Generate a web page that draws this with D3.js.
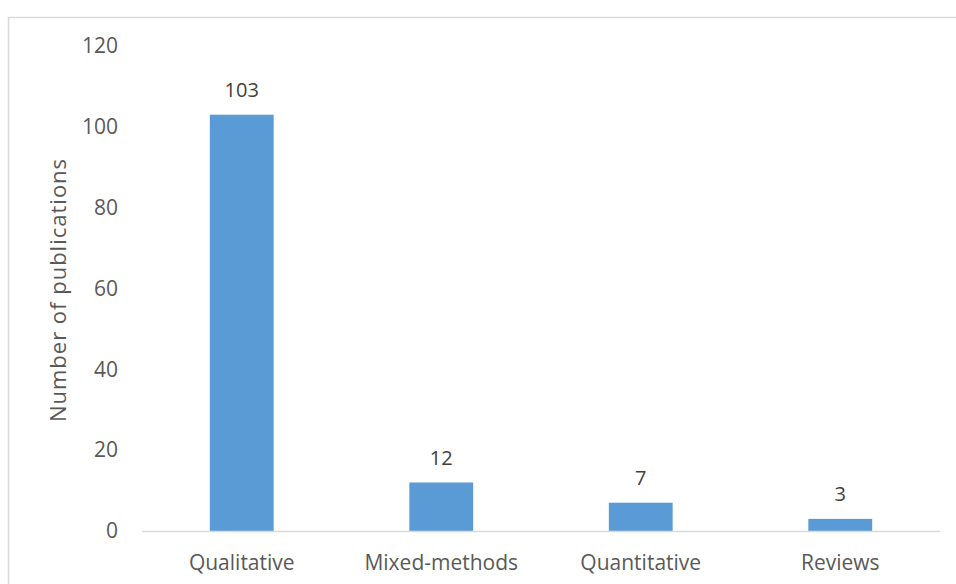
<!DOCTYPE html>
<html><head><meta charset="utf-8">
<script src="https://cdn.jsdelivr.net/npm/d3@7"></script>
<style>body{margin:0;background:#fff;} text{font-family:"Open Sans",sans-serif;}</style>
</head><body>
<svg id="c" width="956" height="584"></svg>
<script>
const categories = ["Qualitative","Mixed-methods","Quantitative","Reviews"];
const values = [103,12,7,3];
const yTicks = [0,20,40,60,80,100,120];
const yLabel = "Number of publications";
const FONT = "'Open Sans',sans-serif";

const svg = d3.select("#c");
svg.append("rect").attr("x",8.5).attr("y",17.5).attr("width",960).attr("height",600)
  .attr("fill","none").attr("stroke","#d9d9d9").attr("stroke-width",1.5);

const x = d3.scaleBand().domain(categories).range([142,940]).paddingInner(0.68).paddingOuter(0.34);
const y = d3.scaleLinear().domain([0,120]).range([531,46]);

svg.selectAll("rect.bar").data(values).join("rect").attr("class","bar")
  .attr("x",(d,i)=>x(categories[i])).attr("width",x.bandwidth())
  .attr("y",d=>y(d)).attr("height",d=>y(0)-y(d)).attr("fill","#5b9bd5");

svg.append("line").attr("x1",142).attr("x2",940).attr("y1",y(0)+0.5).attr("y2",y(0)+0.5)
  .attr("stroke","#d9d9d9").attr("stroke-width",1.5);

const ya = svg.append("g").attr("transform","translate(118,0)")
  .call(d3.axisLeft(y).tickValues(yTicks).tickSize(0).tickPadding(0));
ya.select(".domain").remove();
ya.selectAll("text").attr("font-size",21).attr("fill","#595959").attr("font-family",FONT);

const xa = svg.append("g").attr("transform",`translate(0,${y(0)})`)
  .call(d3.axisBottom(x).tickSize(0).tickPadding(24));
xa.select(".domain").remove();
xa.selectAll("text").attr("font-size",21).attr("fill","#595959").attr("font-family",FONT);

svg.selectAll("text.val").data(values).join("text").attr("class","val")
  .attr("x",(d,i)=>x(categories[i])+x.bandwidth()/2).attr("y",d=>y(d)-18)
  .attr("text-anchor","middle").attr("font-size",20).attr("fill","#404040").text(d=>d);

svg.append("text").attr("transform","translate(66,290) rotate(-90)").attr("text-anchor","middle")
  .attr("font-size",22).attr("fill","#595959").attr("letter-spacing",1).text(yLabel);
</script>
</body></html>
